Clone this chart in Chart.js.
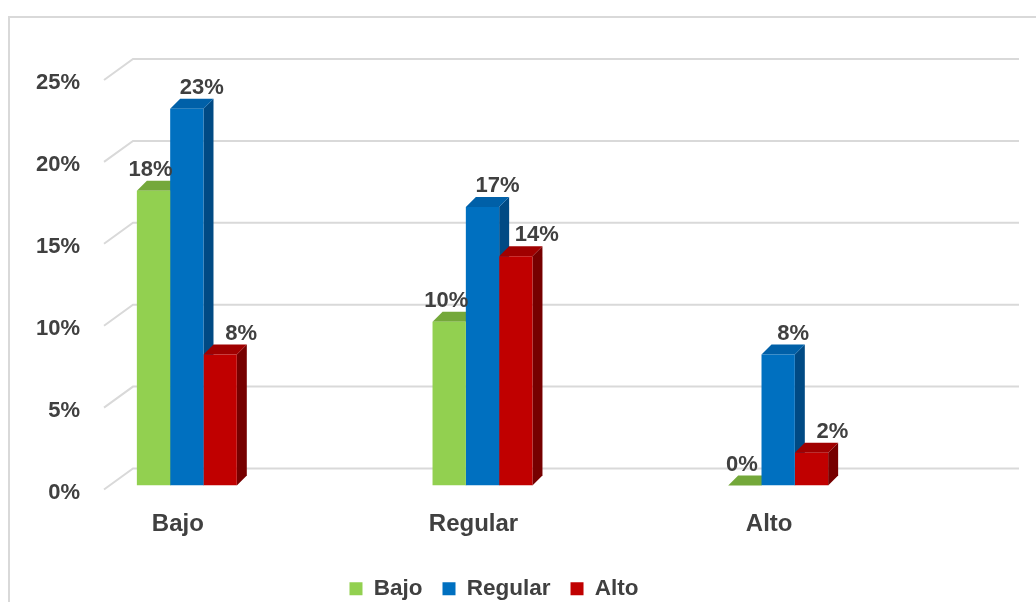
<!DOCTYPE html>
<html lang="es">
<head>
    <meta charset="UTF-8">
    <title>Nivel por categoría</title>
    <script src="https://cdn.jsdelivr.net/npm/chart.js"></script>
    <style>
        body {
            margin: 0;
            background-color: #fff;
        }
        canvas {
            display: block;
        }
    </style>
</head>
<body>
    <canvas id="nivelChart" width="1036" height="602"></canvas>

    <script>
        const categories = ['Bajo', 'Regular', 'Alto'];
        const seriesNames = ['Bajo', 'Regular', 'Alto'];
        const bajoValues = [18, 10, 0];
        const regularValues = [23, 17, 8];
        const altoValues = [8, 14, 2];
        const yTicks = [0, 5, 10, 15, 20, 25];

        const FONT = '"Liberation Sans", Arial, sans-serif';
        const TEXT = '#404040';
        const GRID = '#d9d9d9';
        const DEPTH = 10;

        // front / top / side colours for each series
        const shades = [
            { front: '#92d050', top: '#74a83a', side: '#5e8c2c', labelDx: -3 },
            { front: '#0070c0', top: '#0060a8', side: '#004a84', labelDx: 15 },
            { front: '#c00000', top: '#a00000', side: '#760000', labelDx: 21 }
        ];

        // back wall gridlines with the short floor-side stubs, plus y labels
        const wallPlugin = {
            id: 'wall',
            beforeDatasetsDraw(chart) {
                const ctx = chart.ctx;
                const y = chart.scales.y;
                ctx.save();
                // outer frame
                ctx.strokeStyle = GRID;
                ctx.lineWidth = 2;
                ctx.beginPath();
                ctx.moveTo(9, chart.height);
                ctx.lineTo(9, 17);
                ctx.lineTo(chart.width, 17);
                ctx.stroke();

                ctx.font = 'bold 22px ' + FONT;
                ctx.fillStyle = TEXT;
                ctx.textAlign = 'right';
                ctx.textBaseline = 'middle';
                yTicks.forEach(v => {
                    const py = y.getPixelForValue(v);
                    ctx.beginPath();
                    ctx.moveTo(104, py + 4);
                    ctx.lineTo(133, py - 17);
                    ctx.lineTo(1019, py - 17);
                    ctx.stroke();
                    ctx.fillText(v + '%', 80, py + 7);
                });

                // side and top faces go under the front faces
                chart.data.datasets.forEach((ds, i) => {
                    const meta = chart.getDatasetMeta(i);
                    const c = shades[i];
                    meta.data.forEach(bar => {
                        const { x, y: top, base, width } = bar.getProps(['x', 'y', 'base', 'width'], true);
                        const l = x - width / 2, r = x + width / 2;
                        ctx.fillStyle = c.side;
                        ctx.beginPath();
                        ctx.moveTo(r, top);
                        ctx.lineTo(r + DEPTH, top - DEPTH);
                        ctx.lineTo(r + DEPTH, base - DEPTH);
                        ctx.lineTo(r, base);
                        ctx.closePath();
                        ctx.fill();
                        ctx.fillStyle = c.top;
                        ctx.beginPath();
                        ctx.moveTo(l, top);
                        ctx.lineTo(l + DEPTH, top - DEPTH);
                        ctx.lineTo(r + DEPTH, top - DEPTH);
                        ctx.lineTo(r, top);
                        ctx.closePath();
                        ctx.fill();
                    });
                });
                ctx.restore();
            },
            afterDatasetsDraw(chart) {
                const ctx = chart.ctx;
                ctx.save();
                ctx.font = 'bold 22px ' + FONT;
                ctx.fillStyle = TEXT;
                ctx.textAlign = 'center';
                ctx.textBaseline = 'middle';
                chart.data.datasets.forEach((ds, i) => {
                    const meta = chart.getDatasetMeta(i);
                    meta.data.forEach((bar, j) => {
                        ctx.fillText(ds.data[j] + '%', bar.x + shades[i].labelDx, bar.y - 21);
                    });
                });
                ctx.restore();
            }
        };

        const seriesValues = [bajoValues, regularValues, altoValues];

        new Chart(document.getElementById('nivelChart'), {
            type: 'bar',
            data: {
                labels: categories,
                datasets: seriesNames.map((name, i) => ({
                    label: name,
                    data: seriesValues[i],
                    backgroundColor: shades[i].front,
                    borderWidth: 0,
                    barPercentage: 1,
                    categoryPercentage: 0.338
                }))
            },
            options: {
                responsive: false,
                animation: false,
                layout: {
                    padding: { left: 39, right: 87, top: 76, bottom: -8 }
                },
                scales: {
                    x: {
                        grid: { display: false, drawTicks: false },
                        border: { display: false },
                        ticks: {
                            color: TEXT,
                            font: { family: FONT, size: 24, weight: 'bold' },
                            padding: 24,
                            labelOffset: -9
                        },
                        afterFit(scale) {
                            scale.height = 72;
                        }
                    },
                    y: {
                        position: 'right',
                        min: 0,
                        max: 25,
                        grid: { display: false, drawTicks: false },
                        border: { display: false },
                        ticks: { display: false },
                        afterFit(scale) {
                            scale.width = 23;
                        }
                    }
                },
                plugins: {
                    legend: {
                        position: 'bottom',
                        labels: {
                            color: TEXT,
                            font: { family: FONT, size: 22.5, weight: 'bold' },
                            boxWidth: 13,
                            boxHeight: 13,
                            padding: 20
                        }
                    },
                    tooltip: { enabled: false }
                }
            },
            plugins: [wallPlugin]
        });
    </script>
</body>
</html>
